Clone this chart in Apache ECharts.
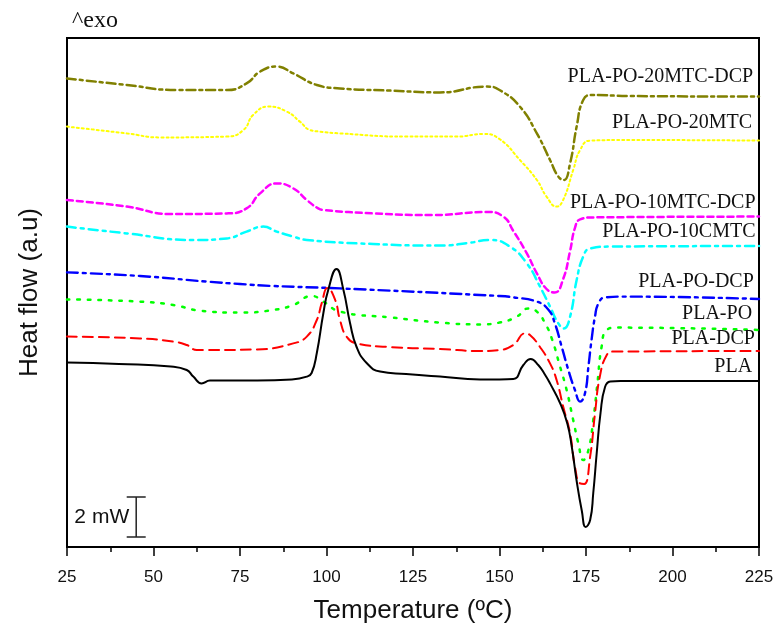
<!DOCTYPE html>
<html>
<head>
<meta charset="utf-8">
<script src="https://cdn.jsdelivr.net/npm/echarts@6/dist/echarts.min.js"></script>
<style>html,body{margin:0;padding:0;background:#fff}#c{width:778px;height:625px}</style>
</head>
<body>
<div id="c"></div>
<script>
// Temperature (°C) / heat flow (mW, vertically offset curves)
const T_PLA = [25,40,55,59.6,61.5,63.9,66.3,70,80,90,94.3,95.7,97.2,99.1,100.5,102.9,104.9,106.8,108.7,111.6,115.5,123,132.8,144.4,150,154,156.9,159,161.2,163.2,164.6,167.5,169.6,170.9,172.3,173.8,174.9,176.2,177.1,178.1,179.2,180.5,182,185,225];
const V_PLA = [9.22,9.15,9.03,8.85,8.52,8.18,8.32,8.33,8.33,8.38,8.52,8.7,9.7,11.7,12.85,13.9,12.85,11.2,10.0,9.2,8.77,8.65,8.52,8.38,8.38,8.4,9.1,9.4,9.1,8.6,8.18,7.2,6.18,5.0,3.3,1.8,1.0,1.35,2.7,4.7,6.7,8.0,8.27,8.3,8.3];

const T_DCP = [25,46.1,55.7,59.6,62.5,65.4,79.8,90.4,94.3,97.2,98.6,100.3,102.5,103.9,105.8,108.7,118.4,132.8,144.4,150,154,157.4,158.8,161.7,164.6,166.5,168.4,170.4,171.8,173.3,174.5,176.2,177.6,179,181,182.9,225];
const V_DCP = [10.52,10.43,10.27,10.1,9.85,9.85,9.88,10.18,10.52,11.35,12.18,12.95,12.35,11.35,10.52,10.18,10.0,9.9,9.8,9.85,10.1,10.68,10.6,10.0,9.18,8.35,7.02,5.68,4.02,3.18,3.15,4.52,6.68,8.52,9.6,9.77,9.8];

const T_PO = [25,46.1,55.7,63.4,75,84.6,90.4,95.7,99.1,103.9,118.4,132.8,144.4,150,155,158.3,160.8,163.2,165.1,167.5,169.4,171.3,172.8,174.2,175.7,177.1,178.3,179.5,181,183.9,225];
const V_PO = [12.38,12.27,12.1,11.82,11.72,11.85,12.1,12.55,12.27,11.77,11.48,11.22,11.13,11.22,11.52,11.93,11.77,11.18,10.43,9.02,7.85,6.35,5.18,4.35,4.85,6.35,8.18,10.0,10.85,10.97,10.85];

const T_PODCP = [25,46.1,65.4,75,84.6,103.9,150,154,160.8,164.2,166,168,169.9,171.8,173.3,174.7,175.7,176.6,177.6,178.6,180.5,186.8,225];
const V_PODCP = [13.73,13.55,13.27,13.15,13.05,12.93,12.55,12.48,12.27,11.85,11.18,10.0,8.85,7.85,7.27,7.68,9.02,10.35,11.52,12.18,12.48,12.52,12.4];

const T_10C = [25,42.3,61.5,71.2,76.9,81.7,85.6,90.4,94.3,113.5,132.8,141,147.3,153,157.9,161.7,164.6,167,168.6,170.4,172.3,174.2,176.2,181.9,225];
const V_10C = [16.02,15.68,15.35,15.43,15.77,16.02,15.77,15.52,15.35,15.15,15.07,15.2,15.35,15.02,14.18,13.02,12.02,11.18,10.93,11.52,13.35,14.52,14.93,15.02,15.05];

const T_10D = [25,42.3,54.8,71.2,76.9,80.8,85.6,90.4,94.3,97.6,99.1,113.5,130.9,146.3,151.1,154,157.9,160.8,163.6,166,168.4,170.4,171.8,173.3,177.1,225];
const V_10D = [17.35,17.02,16.65,16.68,16.93,17.68,18.18,17.93,17.35,16.93,16.85,16.68,16.6,16.75,16.52,15.8,14.68,13.68,12.9,12.73,13.4,14.8,15.95,16.38,16.48,16.52];

const T_20 = [25,42.3,51.9,71.2,76,78.8,83.2,88.5,92.3,95.2,98.1,103.9,123.2,137.6,145.3,150,155.9,160.8,163.6,166.5,168.4,171.3,173.3,176.2,187.7,225];
const V_20 = [21.02,20.68,20.48,20.52,20.85,21.6,22.02,21.77,21.27,20.85,20.77,20.68,20.52,20.52,20.65,20.4,19.35,18.35,17.52,17.02,17.35,18.85,19.85,20.32,20.35,20.32];

const T_20D = [25,42.3,56.7,71.2,76.9,80.8,85.6,90.4,97.2,103.9,118.4,132.8,146.3,150,155.9,160.8,164.6,167,168.6,170.4,172.3,174.2,176.6,187.7,225];
const V_20D = [23.43,23.1,22.85,22.85,23.18,23.77,24.02,23.68,23.1,22.93,22.82,22.73,23.02,22.85,22.02,20.68,19.35,18.52,18.35,19.18,21.02,22.35,22.6,22.55,22.52];

const labelNames = ['PLA-PO-20MTC-DCP','PLA-PO-20MTC','PLA-PO-10MTC-DCP','PLA-PO-10CMTC','PLA-PO-DCP','PLA-PO','PLA-DCP','PLA'];
const labelT = [223.3,223,224,224,223.5,223,223.8,223];
const labelV = [23.52,21.19,17.22,15.77,13.27,11.65,10.39,9.02];

const xTicks = [25,50,75,100,125,150,175,200,225];
const scaleBar = {t: 45, v0: 0.5, mW: 2};

const zip = (a,b) => a.map((t,i)=>[t,b[i]]);

const chart = echarts.init(document.getElementById('c'), null, {renderer:'canvas'});

function lineSeries(name, T, V, color, dash, width){
  return {
    name, type:'line', data: zip(T,V), showSymbol:false, symbol:'none',
    smooth:0.5, silent:true, z:3,
    lineStyle:{color, width, type: dash, cap:'round', join:'round'}
  };
}

const series = [
  lineSeries('PLA-PO-20MTC-DCP', T_20D, V_20D, '#808000', [9,4,3,4], 2.5),
  lineSeries('PLA-PO-20MTC', T_20, V_20, '#ffff00', [2,3], 2),
  lineSeries('PLA-PO-10MTC-DCP', T_10D, V_10D, '#ff00ff', [6,4], 2.5),
  lineSeries('PLA-PO-10CMTC', T_10C, V_10C, '#00ffff', [9,5,3,5], 2.5),
  lineSeries('PLA-PO-DCP', T_PODCP, V_PODCP, '#0000ff', [11,5,3,5], 2.4),
  lineSeries('PLA-PO', T_PO, V_PO, '#00ff00', [2.5,8], 2.5),
  lineSeries('PLA-DCP', T_DCP, V_DCP, '#ff0000', [10,6], 2),
  lineSeries('PLA', T_PLA, V_PLA, '#000000', 'solid', 2),
  {
    type:'custom', silent:true, clip:false, z:5,
    data: labelNames.map((n,i)=>[labelT[i], labelV[i]]),
    encode:{x:0,y:1},
    renderItem:(params, api)=>{
      const p = api.coord([api.value(0), api.value(1)]);
      return {type:'text', x:p[0], y:p[1], style:{text: labelNames[params.dataIndex], align:'right', verticalAlign:'middle', fontSize:20, fontFamily:'"Liberation Serif", "DejaVu Serif", serif', fill:'#111'}};
    }
  },
  {
    type:'custom', silent:true, clip:false, z:5,
    data: [[scaleBar.t, scaleBar.v0, scaleBar.v0 + scaleBar.mW]],
    encode:{x:0,y:[1,2]},
    renderItem:(params, api)=>{
      const b = api.coord([api.value(0), api.value(1)]);
      const t = api.coord([api.value(0), api.value(2)]);
      const hw = 9.5;
      const st = {stroke:'#222', lineWidth:1.5};
      return {type:'group', children:[
        {type:'line', shape:{x1:b[0],y1:b[1],x2:t[0],y2:t[1]}, style:st},
        {type:'line', shape:{x1:b[0]-hw,y1:b[1],x2:b[0]+hw,y2:b[1]}, style:st},
        {type:'line', shape:{x1:t[0]-hw,y1:t[1],x2:t[0]+hw,y2:t[1]}, style:st},
        {type:'text', x:b[0]-7, y:(b[1]+t[1])/2, style:{text: scaleBar.mW + ' mW', align:'right', verticalAlign:'middle', fontSize:21, fontFamily:'"Liberation Sans", Arial, sans-serif', fill:'#111'}}
      ]};
    }
  }
];

chart.setOption({
  animation:false,
  backgroundColor:'#fff',
  grid:{left:67, right:19, top:38, bottom:78, containLabel:false, outerBoundsMode:'none', show:true, borderColor:'#000', borderWidth:2, backgroundColor:'transparent'},
  xAxis:{
    type:'value', min:xTicks[0], max:xTicks[xTicks.length-1], interval:25,
    name:'Temperature (ºC)', nameLocation:'middle', nameGap:51,
    nameTextStyle:{fontSize:26, fontFamily:'"Liberation Sans", Arial, sans-serif', color:'#111'},
    axisLine:{show:true, lineStyle:{color:'#000', width:2}},
    axisTick:{show:true, length:9, lineStyle:{color:'#000', width:1.5}},
    minorTick:{show:true, splitNumber:2, length:5, lineStyle:{color:'#000', width:1.5}},
    axisLabel:{fontSize:17, color:'#111', margin:22, fontFamily:'"Liberation Sans", Arial, sans-serif'},
    splitLine:{show:false}
  },
  yAxis:{
    type:'value', min:0, max:25.45,
    name:'Heat flow (a.u)', nameLocation:'middle', nameGap:24, nameRotate:90,
    nameTextStyle:{fontSize:26, fontFamily:'"Liberation Sans", Arial, sans-serif', color:'#111'},
    axisLine:{show:false}, axisTick:{show:false}, axisLabel:{show:false}, splitLine:{show:false}
  },
  graphic:[{type:'text', left:72, top:9, style:{text:'^exo', fontSize:24, fontFamily:'"Liberation Serif", "DejaVu Serif", serif', fill:'#111'}}],
  series
});
</script>
</body>
</html>
